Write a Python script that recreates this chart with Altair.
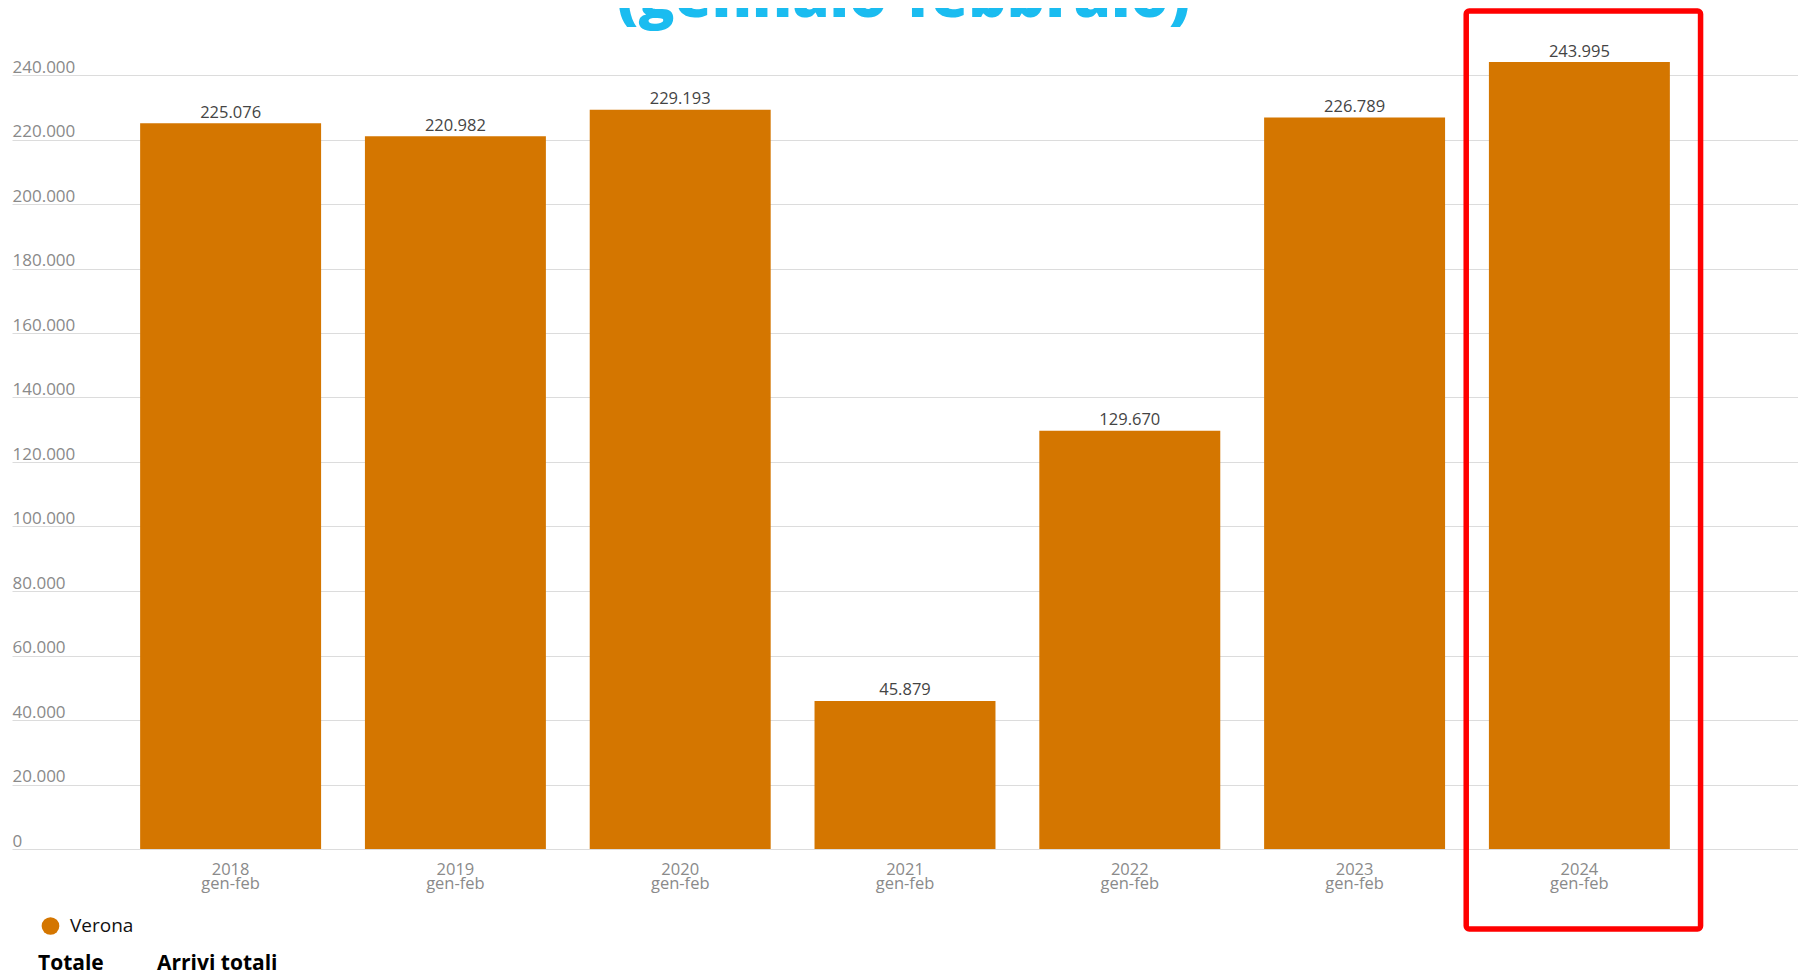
import altair as alt
import pandas as pd

# ---- data ----
anni = ["2018", "2019", "2020", "2021", "2022", "2023", "2024"]
periodo = "gen-feb"
arrivi = [225076, 220982, 229193, 45879, 129670, 226789, 243995]
serie = "Verona"
anno_evidenziato = "2024"
titolo = "(gennaio-febbraio)"
nota_sx = "Totale"
nota_dx = "Arrivi totali"
y_ticks = list(range(0, 240001, 20000))

df = pd.DataFrame({
    "cat": [f"{a} {periodo}" for a in anni],
    "arrivi": arrivi,
    "serie": [serie] * len(anni),
})
df["etichetta"] = [f"{v:,}".replace(",", ".") for v in arrivi]
hl = pd.DataFrame({"cat": [f"{anno_evidenziato} {periodo}"]})
tit = pd.DataFrame({"t": [titolo]})
note = pd.DataFrame({"t": [nota_sx]})
note2 = pd.DataFrame({"t": [nota_dx]})

FONT = "Open Sans"
ORANGE = "#D47600"
W, H = 1786, 774

x = alt.X(
    "cat:N", sort=None, title=None,
    scale=alt.Scale(paddingInner=0.195, paddingOuter=0.57),
    axis=alt.Axis(
        labelExpr="split(datum.label, ' ')", labelAngle=0, labelColor="#8a8a8a",
        labelFontSize=16.5, labelFont=FONT, labelLineHeight=14.5, labelPadding=12,
        labelBaseline="top", ticks=False, tickSize=0, domain=False, grid=False,
    ),
)
y = alt.Y(
    "arrivi:Q", title=None,
    scale=alt.Scale(domain=[0, 240000], nice=False),
    axis=alt.Axis(
        values=y_ticks,
        labelExpr="replace(format(datum.value, ','), regexp(',', 'g'), '.')",
        labelAlign="left", labelBaseline="alphabetic", labelOffset=-3, labelPadding=0,
        ticks=False, tickSize=0, domain=False, grid=True, gridColor="#dcdcdc",
        gridWidth=1, labelColor="#8a8a8a", labelFontSize=17, labelFont=FONT,
    ),
)

bars = alt.Chart(df).mark_bar(opacity=1).encode(
    x=x,
    y=y,
    color=alt.Color(
        "serie:N", scale=alt.Scale(range=[ORANGE]),
        legend=alt.Legend(
            orient="none", legendX=28.5, legendY=841, title=None,
            symbolType="circle", symbolSize=313, symbolOpacity=1,
            labelFont=FONT, labelFontSize=19, labelColor="#111111",
            labelOffset=9.5, padding=0,
        ),
    ),
)

labels = alt.Chart(df).mark_text(
    font=FONT, fontSize=16.5, color="#444444", dy=-5.6, baseline="alphabetic"
).encode(
    x=alt.X("cat:N", sort=None),
    y=alt.Y("arrivi:Q"),
    text="etichetta:N",
)

box = alt.Chart(hl).mark_bar(
    fill="#ffffff", fillOpacity=0, stroke="#ff0000", strokeWidth=5.5,
    cornerRadius=3, width=alt.RelativeBandSize(1.295),
).encode(
    x=alt.X("cat:N", sort=None),
    xOffset=alt.value(4),
    y=alt.value(-64),
    y2=alt.value(854),
)

title = alt.Chart(tit).mark_text(
    font=FONT, fontSize=60, fontWeight=800, color="#1ABCF0",
    align="center", baseline="alphabetic",
).encode(x=alt.value(891.5), y=alt.value(-58), text="t:N")

foot1 = alt.Chart(note).mark_text(
    font=FONT, fontSize=21, fontWeight="bold", color="#000000",
    align="left", baseline="alphabetic",
).encode(x=alt.value(26), y=alt.value(895), text="t:N")

foot2 = alt.Chart(note2).mark_text(
    font=FONT, fontSize=21, fontWeight="bold", color="#000000",
    align="left", baseline="alphabetic",
).encode(x=alt.value(145), y=alt.value(895), text="t:N")

chart = alt.layer(bars, labels, box, title, foot1, foot2).properties(
    width=W, height=H,
    padding={"left": 4, "top": 67, "right": 0, "bottom": 127},
    autosize=alt.AutoSizeParams(type="none"),
    background="#ffffff",
).configure_view(stroke=None)

chart.save("out.html", embed_options={"renderer": "svg", "actions": False})
